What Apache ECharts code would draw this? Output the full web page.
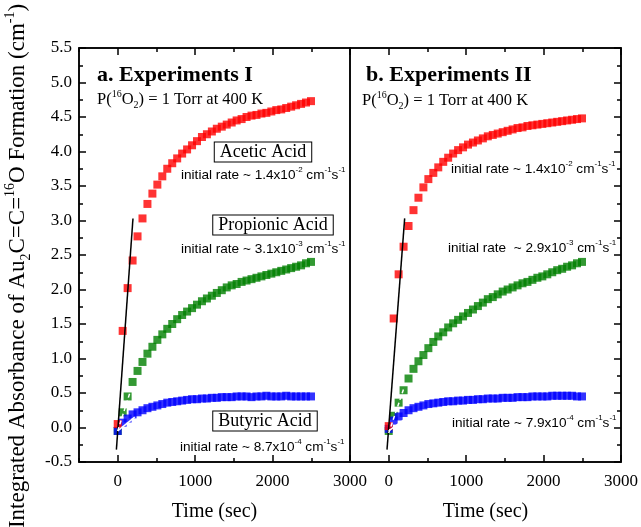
<!DOCTYPE html>
<html>
<head>
<meta charset="utf-8">
<script src="https://cdn.jsdelivr.net/npm/echarts@6/dist/echarts.min.js"></script>
<style>
  html, body { margin: 0; padding: 0; background: #fff; }
  #myChart { width: 641px; height: 527px; }
</style>
</head>
<body>
<div id="myChart"></div>
<script>
// sample times (sec), shared by both experiments
var times = [0,64,128,192,256,320,384,448,512,576,
             640,704,768,832,896,960,1024,1088,1152,1216,
             1280,1344,1408,1472,1536,1600,1664,1728,1792,1856,
             1920,1984,2048,2112,2176,2240,2304,2368,2432,2496];

// a. Experiments I
var acetic1 = [0.05,1.40,2.02,2.42,2.77,3.03,3.24,3.39,3.52,3.64,
               3.75,3.83,3.90,3.97,4.03,4.09,4.15,4.21,4.25,4.29,
               4.33,4.36,4.39,4.42,4.45,4.47,4.50,4.52,4.53,4.55,
               4.56,4.58,4.60,4.61,4.63,4.65,4.67,4.69,4.71,4.73];
var propionic1 = [-0.05,0.22,0.45,0.66,0.82,0.95,1.07,1.17,1.27,1.35,
                  1.43,1.50,1.57,1.63,1.68,1.73,1.78,1.83,1.87,1.91,
                  1.95,1.99,2.03,2.06,2.08,2.11,2.13,2.15,2.17,2.19,
                  2.21,2.23,2.25,2.27,2.29,2.31,2.33,2.35,2.38,2.40];
var butyric1 = [-0.05,0.07,0.13,0.19,0.22,0.25,0.28,0.30,0.32,0.34,
                0.36,0.37,0.38,0.39,0.40,0.41,0.41,0.42,0.42,0.43,
                0.43,0.44,0.44,0.44,0.45,0.45,0.45,0.44,0.45,0.45,
                0.46,0.45,0.45,0.45,0.46,0.45,0.45,0.45,0.45,0.45];

// b. Experiments II
var acetic2 = [0.02,1.58,2.22,2.62,2.92,3.15,3.33,3.48,3.60,3.69,
               3.77,3.85,3.91,3.97,4.02,4.06,4.10,4.13,4.16,4.19,
               4.22,4.24,4.26,4.28,4.30,4.32,4.34,4.35,4.37,4.38,
               4.39,4.40,4.41,4.42,4.43,4.44,4.45,4.46,4.47,4.48];
var propionic2 = [-0.05,0.17,0.36,0.54,0.71,0.85,0.96,1.05,1.15,1.24,
                  1.32,1.38,1.45,1.51,1.56,1.61,1.66,1.71,1.76,1.81,
                  1.86,1.89,1.93,1.97,2.00,2.03,2.06,2.09,2.11,2.14,
                  2.17,2.19,2.22,2.25,2.28,2.30,2.33,2.35,2.38,2.40];
var butyric2 = [-0.02,0.10,0.16,0.21,0.25,0.28,0.30,0.32,0.34,0.35,
                0.36,0.37,0.38,0.38,0.39,0.39,0.40,0.40,0.41,0.41,
                0.42,0.42,0.42,0.43,0.43,0.43,0.44,0.44,0.44,0.45,
                0.45,0.45,0.45,0.46,0.46,0.46,0.46,0.46,0.45,0.45];

// initial-rate fit lines [time, absorbance]
var fitAcetic1 = [[-17,-0.32],[197,3.03]];
var fitPropionic1 = [[0,-0.05],[185,0.60]];
var fitButyric1 = [[0,-0.05],[220,0.15]];
var fitAcetic2 = [[-22,-0.32],[206,3.03]];
var fitPropionic2 = [[0,-0.08],[190,0.55]];
var fitButyric2 = [[0,-0.05],[210,0.12]];

var xTicksMajor = [0,1000,2000,3000];
var yRange = [-0.5, 5.5];
var xRange = [-500, 3000];

var SERIF = 'Liberation Serif';
var SANS = 'Liberation Sans';

function pairs(arr) {
  return times.map(function (t, i) { return [t, arr[i]]; });
}

function xAxes(grid) {
  var base = {
    gridIndex: grid, type: 'value', min: xRange[0], max: xRange[1],
    splitLine: { show: false }
  };
  return [
    Object.assign({}, base, {
      position: 'bottom', interval: 500,
      axisLine: { onZero: false, lineStyle: { color: '#000', width: 1.5 } },
      axisTick: { inside: true, length: 4, lineStyle: { color: '#000', width: 1.5 } },
      axisLabel: {
        color: '#000', fontFamily: SERIF, fontSize: 17, margin: 11,
        formatter: function (v) { return (v >= 0 && v % 1000 === 0) ? String(v) : ''; }
      },
      name: 'Time (sec)', nameLocation: 'middle', nameGap: 40,
      nameTextStyle: { color: '#000', fontFamily: SERIF, fontSize: 20 }
    }),
    Object.assign({}, base, {
      position: 'bottom', interval: 500,
      axisLine: { show: false, onZero: false },
      axisTick: { inside: true, length: 7, customValues: xTicksMajor, lineStyle: { color: '#000', width: 1.5 } },
      axisLabel: { show: false }
    }),
    Object.assign({}, base, {
      position: 'top', interval: 500,
      axisLine: { onZero: false, lineStyle: { color: '#000', width: 1.5 } },
      axisTick: { inside: true, length: 4, lineStyle: { color: '#000', width: 1.5 } },
      axisLabel: { show: false }
    }),
    Object.assign({}, base, {
      position: 'top', interval: 500,
      axisLine: { show: false, onZero: false },
      axisTick: { inside: true, length: 7, customValues: xTicksMajor, lineStyle: { color: '#000', width: 1.5 } },
      axisLabel: { show: false }
    })
  ];
}

function yAxis(grid, pos, labels) {
  return {
    gridIndex: grid, type: 'value', position: pos,
    min: yRange[0], max: yRange[1], interval: 0.5,
    splitLine: { show: false },
    axisLine: { onZero: false, lineStyle: { color: '#000', width: 1.5 } },
    axisTick: { inside: true, length: 7, lineStyle: { color: '#000', width: 1.5 } },
    minorTick: { show: true, splitNumber: 2, length: 4, lineStyle: { color: '#000', width: 1.5 } },
    axisLabel: {
      show: labels, color: '#000', fontFamily: SERIF, fontSize: 17, margin: 7,
      formatter: function (v) { return v.toFixed(1); }
    }
  };
}

function dots(name, arr, color, xi, yi) {
  return {
    name: name, type: 'scatter', xAxisIndex: xi, yAxisIndex: yi,
    data: pairs(arr), symbol: 'rect', symbolSize: 8,
    itemStyle: { color: color }, silent: true
  };
}

function fit(data, color, dash, xi, yi) {
  return {
    type: 'line', xAxisIndex: xi, yAxisIndex: yi, data: data,
    symbol: 'none', silent: true, z: 5,
    lineStyle: { color: color, width: 1.5, type: dash ? [4, 3] : 'solid' }
  };
}

function label(x, y, text, opts) {
  var st = Object.assign({
    text: text, fill: '#000', fontFamily: SERIF, fontSize: 15,
    align: 'left', textAlign: 'left', verticalAlign: 'middle', textVerticalAlign: 'middle'
  }, opts || {});
  return { type: 'text', x: x, y: y, silent: true, z: 100, style: st };
}

function richSet(size, family, weight) {
  var lh = Math.round(size * 1.3);
  var ss = Math.round(size * 0.6);
  return {
    n: { fontSize: size, fontFamily: family, fontWeight: weight || 'normal', lineHeight: lh, color: '#000' },
    sup: { fontSize: ss, fontFamily: family, lineHeight: ss + 1, verticalAlign: 'top', color: '#000' },
    sub: { fontSize: ss, fontFamily: family, lineHeight: ss + 1, verticalAlign: 'bottom', color: '#000' }
  };
}

function pressure(x, y) {
  return label(x, y, '{n|P(}{sup|16}{n|O}{sub|2}{n|) = 1 Torr at 400 K}', { rich: richSet(16.5, SERIF) });
}

function rate(x, y, mant, exp) {
  return label(x, y, '{n|initial rate ' + mant + 'x10}{sup|' + exp + '}{n| cm}{sup|-1}{n|s}{sup|-1}',
    { rich: richSet(13.6, SANS) });
}

function boxed(cx, cy, text) {
  return label(cx, cy, text, {
    fontSize: 18, align: 'center', textAlign: 'center',
    borderColor: '#000', borderWidth: 1, padding: [1, 5, 0, 5], backgroundColor: '#fff'
  });
}

var myChart = echarts.init(document.getElementById('myChart'));
myChart.setOption({
  animation: false,
  backgroundColor: '#fff',
  grid: [
    { left: 79, right: 291, top: 48, bottom: 64, show: true, borderColor: '#000', borderWidth: 1.5 },
    { left: 350, right: 19, top: 48, bottom: 64, show: true, borderColor: '#000', borderWidth: 1.5 }
  ],
  xAxis: xAxes(0).concat(xAxes(1)),
  yAxis: [yAxis(0, 'left', true), yAxis(1, 'right', false)],
  series: [
    dots('Propionic Acid', propionic1, '#008000', 0, 0),
    dots('Butyric Acid', butyric1, '#0000ff', 0, 0),
    dots('Acetic Acid', acetic1, '#ff0000', 0, 0),
    fit(fitAcetic1, '#000', false, 0, 0),
    fit(fitPropionic1, '#fff', true, 0, 0),
    fit(fitButyric1, '#fff', false, 0, 0),
    dots('Propionic Acid', propionic2, '#008000', 4, 1),
    dots('Butyric Acid', butyric2, '#0000ff', 4, 1),
    dots('Acetic Acid', acetic2, '#ff0000', 4, 1),
    fit(fitAcetic2, '#000', false, 4, 1),
    fit(fitPropionic2, '#fff', true, 4, 1),
    fit(fitButyric2, '#fff', false, 4, 1)
  ],
  graphic: [
    label(18, 266, '{n|Integrated Absorbance of Au}{sub|2}{n|C=C=}{sup|16}{n|O Formation (cm}{sup|-1}{n|)}', {
      rich: richSet(23, SERIF), align: 'center', textAlign: 'center'
    }),
    label(97, 75, 'a. Experiments I', { fontSize: 22, fontWeight: 'bold' }),
    pressure(97, 100),
    boxed(263, 152, 'Acetic Acid'),
    rate(181, 175, '~ 1.4', '-2'),
    boxed(273, 225, 'Propionic Acid'),
    rate(181, 249, '~ 3.1', '-3'),
    boxed(265, 421, 'Butyric Acid'),
    rate(180, 447, '~ 8.7', '-4'),
    label(366, 75, 'b. Experiments II', { fontSize: 22, fontWeight: 'bold' }),
    pressure(362, 101),
    rate(451, 169, '~ 1.4', '-2'),
    rate(448, 248, ' ~ 2.9', '-3'),
    rate(452, 423, '~ 7.9', '-4')
  ]
});
// rotate the y title after building it
var opt = myChart.getOption();
opt.graphic[0].elements[0].rotation = Math.PI / 2;
myChart.setOption({ graphic: opt.graphic });
</script>
</body>
</html>
